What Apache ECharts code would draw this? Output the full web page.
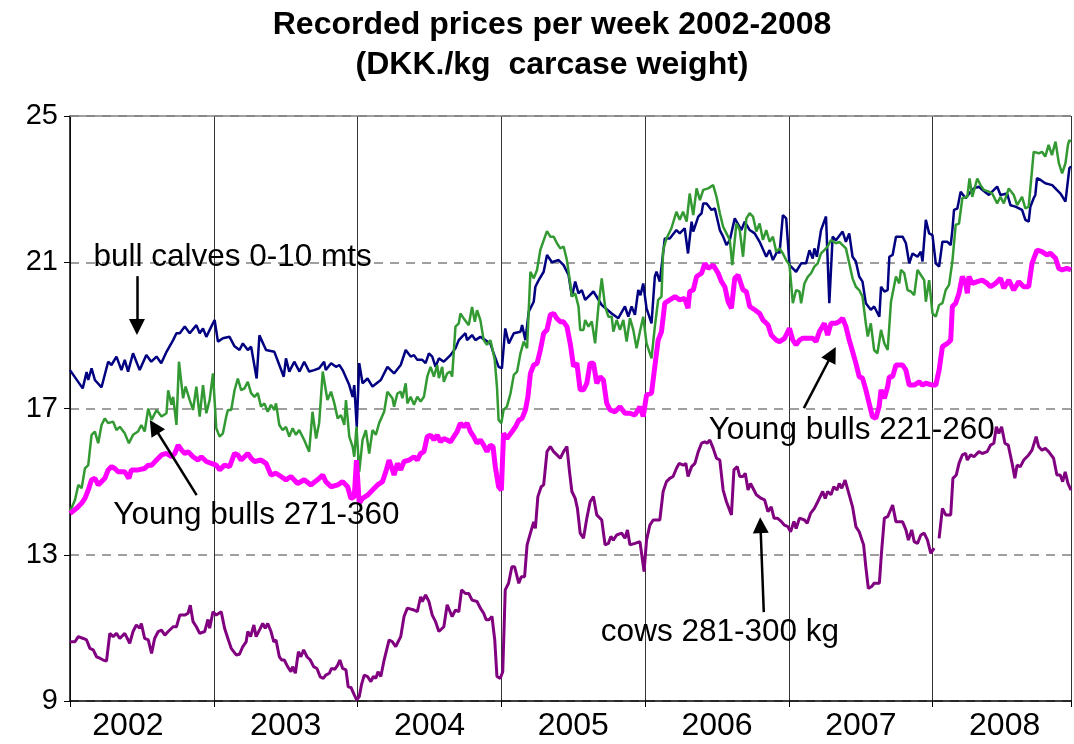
<!DOCTYPE html>
<html>
<head>
<meta charset="utf-8">
<title>Recorded prices per week 2002-2008</title>
<script src="https://cdn.jsdelivr.net/npm/echarts@6/dist/echarts.min.js"></script>
<style>
  html, body { margin: 0; padding: 0; background: #fff; }
  #chart { width: 1074px; height: 744px; }
</style>
</head>
<body>
<div id="chart"></div>
<script>
// x = week number counted from the first week of 2002 (52 weeks per year)
const years = ['2002', '2003', '2004', '2005', '2006', '2007', '2008']
const yTicks = [9, 13, 17, 21, 25]

// bull calves 0-10 mts
const calves = [[0,18.05],[4.6,17.55],[6,18.0],[6.6,17.78],[7.8,18.1],[9,17.78],[11.4,17.58],[13.8,18.28],[15,18.19],[16.8,18.42],[18.6,18.05],[19.8,18.33],[21,18.01],[22.8,18.51],[25.2,18.05],[27.6,18.46],[29.4,18.28],[31.3,18.42],[33,18.24],[34.9,18.55],[37.3,18.87],[38.5,19.06],[39.7,19.06],[41.5,19.24],[43.3,19.06],[45.7,19.28],[46.9,19.06],[48.1,19.19],[49.3,18.96],[51.1,19.24],[52.3,19.42],[53.5,18.83],[55.3,18.92],[57.7,18.96],[59.5,18.7],[61.3,18.6],[62.5,18.78],[64.3,18.6],[65.5,18.69],[67.5,17.82],[68.5,19.0],[70.9,18.6],[73.9,18.55],[75.7,18.19],[77.3,17.87],[78.1,18.37],[79.3,18.01],[81.1,18.28],[83,18.01],[84.7,18.28],[86.5,18.01],[88.3,18.05],[90.1,18.1],[91.9,18.28],[92.5,18.05],[94.4,18.24],[96.2,18.14],[97.4,18.19],[98.6,18.05],[101,17.64],[102.2,17.32],[102.8,17.64],[103.7,16.5],[104.6,18.24],[105.8,17.69],[107.6,17.82],[109.4,17.6],[112.4,17.78],[114.8,18.14],[117.2,17.96],[119.6,18.19],[121.4,18.6],[123.2,18.42],[124.4,18.46],[125.6,18.33],[127.4,18.33],[128.6,18.24],[129.8,18.51],[131,18.42],[132.2,18.14],[133.4,18.37],[135.2,18.28],[137.6,18.46],[139.4,18.65],[140.6,18.87],[143,19.06],[143.6,18.87],[145.4,19.01],[146.6,18.87],[148.4,18.96],[150.2,18.87],[152,18.78],[153.2,18.51],[155,18.14],[156.2,18.1],[157.4,19.19],[158.7,18.78],[160.5,19.06],[162.9,19.1],[163.5,19.28],[164.7,18.87],[165.9,19.65],[167.7,19.92],[168.3,20.33],[169.5,20.51],[171.3,20.74],[172.5,21.2],[174.3,21.0],[176.7,21.06],[178.5,20.92],[180.3,20.65],[181.5,20.06],[182.7,20.47],[183.9,20.15],[185.1,20.24],[186.3,19.97],[189.3,20.2],[192.3,19.83],[195.9,19.6],[198.3,19.47],[200.7,19.79],[201.9,19.51],[203.1,19.79],[204.3,19.56],[205.5,20.24],[206.3,20.1],[207.3,20.42],[208.5,19.74],[210.3,19.33],[211.5,20.61],[212.1,20.74],[213.3,20.47],[215.1,21.65],[216.9,21.65],[219.3,21.88],[220.5,21.79],[222.3,21.93],[223.5,21.24],[224.8,22.11],[225.4,21.84],[227.2,22.25],[228.4,22.34],[229,22.61],[230.2,22.61],[232,22.43],[233.2,22.47],[235,21.88],[236.2,21.7],[237.4,21.47],[238.6,21.6],[240.4,22.2],[242.8,21.88],[244,22.11],[245.8,21.88],[247.6,21.79],[249.4,21.56],[251.8,21.15],[253,21.33],[254.2,21.06],[256,21.33],[256.6,21.24],[257.8,22.29],[259,22.2],[260.2,20.92],[261.4,20.83],[262.6,20.74],[264.4,20.97],[266.2,20.97],[267.4,21.33],[268.6,21.1],[269.2,21.38],[270.1,21.15],[271.6,21.88],[273.4,22.25],[274.6,19.88],[275.8,21.7],[277,21.6],[279.4,21.84],[280.6,21.56],[281.8,21.79],[283,21.15],[284.2,21.02],[285.4,20.61],[286.6,20.47],[287.8,19.88],[289.6,19.7],[290.8,19.79],[292.7,19.51],[293.3,20.33],[294.5,20.2],[295.7,20.24],[296.3,21.15],[297.5,21.2],[298.7,21.7],[301.1,21.7],[302.3,21.52],[303.5,20.97],[304.7,21.24],[306.5,21.15],[307.7,21.29],[308.3,21.02],[309.5,22.16],[310.7,21.79],[311.9,21.74],[313.1,20.97],[314.3,20.88],[315.5,21.56],[317.3,21.56],[318.5,21.47],[319.1,21.88],[319.7,22.43],[320.9,22.47],[322.1,22.93],[323.9,22.75],[325.7,22.93],[326.9,23.02],[328.7,23.07],[329.9,22.98],[332.3,22.84],[335.3,23.07],[336.5,22.84],[338.9,22.88],[340.1,22.56],[341.9,22.52],[344.3,22.43],[345.5,22.16],[346.7,22.11],[347.3,22.52],[348.5,22.75],[349.1,22.84],[349.7,23.3],[351,23.25],[352.7,23.16],[355.2,23.11],[358.2,22.88],[360,22.66],[361.4,23.57],[362,23.62]]

// Young bulls 271-360
const bulls271 = [[0,14.18],[1.8,14.5],[3,14.91],[4.2,14.82],[5.4,15.36],[6.6,15.45],[7.8,16.28],[9,16.37],[10.2,16.05],[11.4,16.55],[12.6,16.73],[13.8,16.6],[15.6,16.64],[16.8,16.41],[18,16.5],[19.8,16.32],[21.3,16.05],[22.8,16.28],[24.6,16.37],[25.8,16.55],[27,16.37],[28.3,17.0],[29.5,16.69],[31.3,16.96],[33.1,16.78],[34.9,16.87],[35.5,17.5],[36.7,17.1],[37.3,17.32],[38.5,16.55],[39.4,18.28],[40.9,17.28],[41.8,17.6],[43.3,17.23],[44.5,16.96],[45.7,17.6],[46.9,16.78],[48.1,17.64],[49.3,16.87],[50.5,17.23],[51.7,17.96],[52.9,16.46],[54.1,16.23],[55.3,16.32],[56.5,16.78],[57.1,16.96],[58.3,16.96],[59.5,17.5],[60.7,17.82],[61.9,17.5],[63.1,17.55],[64.3,17.73],[65.5,17.42],[66.7,17.32],[67.9,17.42],[69.1,17.05],[70.3,17.14],[71.5,16.91],[72.7,17.1],[73.9,16.96],[74.5,17.14],[75.7,16.55],[76.9,16.41],[78.1,16.5],[79.3,16.23],[80.5,16.46],[81.7,16.28],[82.9,16.41],[84.7,16.14],[86.5,15.82],[87.7,16.91],[89,16.18],[90.1,16.6],[91.4,18.01],[93.1,17.23],[94.4,17.46],[95.6,17.14],[96.8,16.73],[98,16.82],[99.2,16.55],[99.8,17.23],[101,16.23],[102.2,15.96],[102.8,15.68],[103.6,16.5],[104.6,15.27],[105.8,16.14],[107,16.41],[108.2,15.77],[109.4,16.41],[110.6,16.28],[111.8,16.6],[113.6,16.91],[114.8,17.46],[115.4,17.41],[116.6,17.28],[117.2,17.05],[118.4,17.41],[119.6,17.46],[120.2,17.28],[121.4,17.69],[122,17.14],[123.2,17.32],[124.4,17.1],[125.6,17.32],[126.8,17.19],[128,17.32],[129.2,17.87],[130.4,18.14],[131.6,17.87],[132.8,18.19],[133.4,17.83],[134.6,18.14],[135.2,17.73],[136.4,17.96],[137.6,18.01],[138.2,17.87],[139.4,19.24],[140.6,19.33],[141.2,19.6],[142.4,19.46],[144.2,19.28],[145.4,19.78],[146.4,19.37],[147.2,19.69],[148.4,19.42],[149.6,18.87],[150.8,18.74],[152,18.87],[152.6,18.69],[153.6,18.33],[154.4,17.6],[155,16.69],[156,16.6],[156.8,16.96],[158,17.05],[159.3,17.41],[160.5,17.92],[161.7,18.01],[162.9,18.51],[164.1,18.83],[165.3,18.65],[165.9,19.69],[166.5,20.74],[167.7,20.56],[168.9,20.79],[170.1,21.34],[171.3,21.6],[172.5,21.85],[173.7,21.7],[174.9,21.7],[176.1,21.52],[177.3,21.38],[178.5,21.43],[179.7,21.06],[180.9,20.42],[181.5,20.06],[182.7,20.15],[183.9,19.79],[184.5,19.15],[185.7,19.15],[186.3,19.42],[187.5,19.24],[188.7,19.38],[189.9,18.78],[191.1,19.79],[192.3,20.56],[193.5,19.79],[194.7,19.51],[195.9,19.51],[196.5,19.1],[197.7,19.42],[198.9,19.15],[200.1,19.42],[201.3,18.83],[202.5,19.47],[203.7,19.15],[204.9,18.65],[206.1,19.1],[207.3,19.51],[208.5,18.78],[209.7,18.51],[210.3,18.37],[211.5,19.24],[212.7,19.97],[213.9,20.06],[214.5,21.33],[215.7,21.65],[217.5,21.93],[219.3,22.38],[220.5,22.16],[221.7,22.38],[223,22.11],[224.1,22.88],[225.4,22.29],[226.6,23.02],[227.8,22.7],[229,22.98],[230.8,23.02],[232.6,23.11],[233.8,22.79],[235,22.34],[236.2,21.97],[237.4,21.79],[238.6,21.61],[239.5,20.92],[241,22.06],[242.2,21.88],[243.4,21.15],[244.6,22.2],[245.8,22.34],[247,22.25],[248.2,21.84],[249.4,22.06],[250.6,21.61],[251.8,21.88],[253,21.56],[254.2,21.7],[255.4,21.29],[256.6,21.38],[257.8,21.24],[259,21.06],[260.2,20.92],[261.4,19.88],[262.6,20.24],[263.8,20.2],[264.4,19.88],[265.6,20.42],[266.8,20.6],[268,20.7],[269.2,20.88],[270.4,20.97],[271.6,21.24],[272.8,21.33],[274,21.43],[275.2,21.61],[277,21.52],[278.2,21.56],[279.4,21.47],[280.6,21.38],[281.8,20.97],[283,20.56],[284.2,20.33],[285.4,20.24],[286.6,20.06],[287.8,19.33],[288.5,18.97],[289.6,19.33],[290.8,18.6],[292,18.51],[293.3,19.15],[294.5,18.78],[295.7,18.6],[296.9,19.92],[298.7,20.61],[299.9,20.42],[300.5,20.79],[301.7,20.7],[302.9,20.24],[304.1,20.2],[305.3,20.1],[306.5,20.79],[307.7,20.65],[308.9,20.51],[309.5,19.92],[310.7,20.51],[311.9,19.6],[313.1,19.51],[314.3,19.83],[315.5,19.88],[316.7,20.24],[317.9,20.38],[319.1,21.02],[320.3,22.02],[321.5,22.06],[322.7,22.75],[324.5,22.79],[325.3,23.29],[326.3,22.79],[328.1,23.29],[329.3,23.11],[330.5,22.98],[332.3,22.93],[333.5,22.88],[335.3,22.61],[336.5,22.79],[337.7,22.61],[339.5,23.02],[341.3,22.84],[342.5,22.56],[344.3,22.79],[345.5,22.47],[346.7,22.52],[347.9,23.52],[348.5,24.02],[350.3,23.98],[351.5,24.02],[352.7,23.89],[353.9,24.21],[355.1,23.93],[356.4,24.3],[357.6,23.71],[358.8,23.43],[360,23.71],[360.9,24.21],[361.4,24.34],[362,24.3]]

// Young bulls 221-260
const bulls221 = [[0,14.13],[2.4,14.27],[4.2,14.41],[5.4,14.54],[6.6,14.77],[7.8,15.05],[9,15.09],[10.2,14.91],[11.4,15.0],[12.6,15.09],[13.8,15.32],[15,15.41],[16.2,15.36],[17.4,15.27],[19.8,15.27],[21.3,15.09],[22.2,15.32],[24.6,15.32],[27,15.36],[28.3,15.45],[29.5,15.45],[31.3,15.59],[33.1,15.73],[34.9,15.77],[36.7,15.68],[37.9,15.77],[39.1,16.0],[40.3,15.87],[41.5,15.77],[42.7,15.82],[44.5,15.68],[46.3,15.59],[47.5,15.68],[49.3,15.55],[51.1,15.5],[52.9,15.45],[54.1,15.32],[55.9,15.45],[57.7,15.41],[59.5,15.77],[60.7,15.73],[61.9,15.59],[63.1,15.68],[64.3,15.77],[65.5,15.64],[66.7,15.55],[69.1,15.59],[70.9,15.5],[72.7,15.18],[74.5,15.23],[76.3,15.14],[78.1,15.05],[79.9,15.14],[82.3,14.95],[84.7,15.05],[87.1,14.91],[89.5,15.05],[91.4,15.18],[92.5,15.0],[94.4,14.86],[96.8,14.91],[98.6,15.0],[100.4,14.86],[101.6,14.54],[102.8,14.59],[103.6,15.59],[104.6,14.41],[105.8,14.54],[107.6,14.63],[109.4,14.77],[111.2,14.91],[113,15.0],[114.4,15.32],[115.4,15.59],[117.2,15.18],[118.4,15.5],[119.6,15.32],[120.8,15.55],[122.6,15.59],[124.4,15.68],[125.6,15.59],[126.8,15.77],[128,15.82],[129.2,16.23],[130.4,16.27],[131.6,16.14],[132.8,16.27],[134,16.09],[135.2,16.18],[136.4,16.14],[137.6,16.09],[138.8,16.23],[140,16.37],[141.2,16.6],[142.4,16.5],[143.6,16.6],[144.8,16.37],[146,16.23],[147.2,16.05],[148.4,16.14],[149.6,16.0],[150.8,15.82],[152,16.0],[153,15.95],[153.8,15.41],[155,14.86],[156,14.77],[156.8,16.32],[158,16.18],[159.9,16.37],[161.1,16.5],[162.3,16.68],[163.5,16.73],[164.7,16.96],[165.6,17.32],[166.5,17.96],[167.7,18.19],[168.9,18.23],[170.1,18.6],[171.3,19.06],[172.5,19.15],[173.7,19.56],[174.9,19.6],[176.1,19.46],[177.3,19.37],[178.5,19.37],[179.7,19.24],[180.9,18.78],[182.1,18.15],[183.3,18.24],[184.5,17.51],[185.7,17.51],[186.9,17.69],[188.1,18.24],[189.3,18.24],[190.5,17.69],[191.7,17.87],[192.9,17.78],[194.1,17.14],[195.3,16.96],[197.1,16.91],[198.9,17.05],[200.7,16.87],[202.5,16.87],[204.3,16.82],[206.1,17.05],[207.3,16.78],[208.5,17.37],[210.3,17.42],[211.5,18.15],[212.7,18.87],[213.9,19.1],[215.1,19.88],[216.9,19.97],[218.8,20.06],[220.5,19.97],[222.3,20.01],[223.5,19.74],[224.1,20.2],[225.4,20.24],[226.6,20.61],[228.4,20.7],[229.6,20.97],[230.8,20.83],[232.6,20.92],[234.4,20.7],[235.6,20.47],[236.8,20.33],[238,19.92],[239.2,19.74],[240.4,20.56],[241.6,20.65],[243.4,20.24],[244.6,20.2],[245.8,19.79],[247.6,19.7],[249.4,19.6],[250.6,19.42],[252.4,19.29],[253.6,19.01],[255.4,18.87],[256.6,18.83],[258.4,18.92],[260.2,19.19],[261.4,18.87],[262.6,18.74],[263.8,18.87],[265,18.92],[266.8,18.92],[268.6,18.92],[269.8,18.83],[271,19.1],[272.8,19.33],[274,19.01],[275.2,19.33],[277,19.33],[278.2,19.38],[279.4,19.47],[280.6,19.24],[281.8,18.87],[283,18.56],[284.2,18.24],[285.4,17.87],[286.6,17.83],[287.8,17.51],[289,17.14],[290.2,16.78],[291.4,16.73],[292.6,17.05],[293.3,17.51],[294.5,17.28],[295.7,17.6],[296.3,17.87],[297.5,17.87],[298.7,18.19],[299.3,18.23],[301.1,18.19],[302.3,18.05],[303.5,17.64],[305.3,17.64],[307.1,17.73],[308.3,17.64],[309.5,17.69],[311.9,17.64],[313.1,17.64],[314.3,18.05],[315.5,18.69],[317.3,18.78],[318.5,18.87],[319.1,19.79],[320.3,19.88],[321.5,20.15],[322.7,20.61],[323.9,20.42],[324.5,20.15],[325.1,20.61],[326.3,20.42],[328.1,20.47],[329.9,20.51],[331.7,20.42],[332.9,20.33],[334.7,20.42],[336.5,20.56],[337.7,20.29],[339.5,20.51],[341.3,20.24],[343.1,20.47],[344.9,20.33],[346.7,20.33],[347.9,20.97],[349.7,21.33],[351.5,21.29],[353.3,21.2],[354.5,21.25],[356.4,21.11],[357.6,20.83],[358.8,20.79],[360.5,20.83],[362,20.79]]

// cows 281-300 kg (one missing stretch early 2008)
const cows = [[0,10.62],[1.8,10.62],[3,10.76],[4.8,10.71],[6,10.67],[7.2,10.44],[8.4,10.4],[9.6,10.21],[10.8,10.17],[12,10.12],[13.2,10.09],[14.4,10.85],[15.6,10.76],[16.8,10.85],[18,10.71],[19.8,10.85],[21.6,10.58],[22.8,10.9],[24,11.08],[25.2,10.99],[25.8,11.12],[27,10.71],[28.3,10.67],[29.5,10.3],[30.6,10.71],[31.9,10.9],[33.1,10.94],[34.3,10.8],[35.5,10.9],[37.3,11.03],[38.5,11.03],[39.7,11.35],[41.5,11.35],[42.7,11.4],[43.5,11.62],[44.5,11.17],[45.7,11.03],[46.9,10.85],[48.7,10.9],[49.9,11.23],[50.5,10.99],[51.7,11.44],[52.9,11.35],[54.7,11.44],[55.9,10.99],[57.1,10.71],[58.3,10.44],[60.1,10.26],[61.3,10.28],[62.5,10.49],[63.7,10.62],[64.3,10.9],[65.3,10.76],[66.5,11.08],[67.3,10.76],[68.5,10.94],[69.7,11.12],[70.6,10.99],[71.5,11.12],[72.7,10.9],[73.7,10.62],[74.5,10.67],[75.7,10.21],[76.6,10.12],[77.5,10.12],[78.7,9.94],[79.9,9.8],[80.5,9.94],[81.5,9.76],[82.6,10.35],[83.5,10.21],[84.5,10.4],[85.7,10.21],[86.9,10.12],[88.1,9.94],[89.3,9.89],[90.5,9.66],[91.6,9.62],[92.5,9.71],[93.8,9.76],[94.6,9.89],[95.8,9.87],[96.8,9.98],[97.6,10.12],[98.6,9.89],[99.8,9.85],[100.6,9.39],[101.6,9.37],[102.8,9.17],[103.7,9.03],[104.6,9.12],[105.4,9.44],[106.4,9.71],[107.6,9.67],[108.8,9.53],[109.7,9.67],[110.6,9.62],[111.4,9.8],[112.4,9.67],[113.6,10.12],[115.4,10.67],[116.6,10.62],[117.8,10.49],[119.6,10.76],[120.8,11.31],[122,11.54],[124.4,11.49],[125.6,11.44],[126.8,11.85],[127.4,11.72],[128.6,11.9],[129.8,11.72],[131,11.35],[132.2,11.17],[133.4,10.9],[135.2,11.03],[136.4,11.63],[138.2,11.31],[139.4,11.49],[140.6,11.44],[141.6,12.04],[143,11.94],[144.2,11.94],[145.4,11.76],[147.2,11.72],[148.4,11.54],[149.6,11.4],[150.5,11.22],[151.5,11.22],[152.6,11.31],[153.6,10.67],[154.4,9.67],[155.6,9.62],[156.5,9.8],[157.4,12.04],[158.6,12.22],[159.8,12.67],[160.8,12.67],[162.3,12.22],[163.2,12.4],[164.4,12.4],[165.3,13.27],[166.5,13.59],[167.7,13.9],[168.3,13.72],[169.2,14.59],[170.4,14.86],[171.3,14.91],[172.5,15.82],[173.7,15.96],[174.9,15.82],[176.1,15.73],[177.3,15.64],[178.5,15.82],[179.7,15.96],[180.6,15.3],[181.5,14.73],[182.7,14.54],[183.5,14.27],[184.5,13.59],[185.7,13.45],[186.9,14.0],[188.1,14.45],[189.3,14.59],[190.5,14.09],[192.3,13.95],[193.5,13.27],[194.7,13.31],[195.6,13.5],[196.5,13.4],[197.7,13.54],[199.5,13.59],[200.7,13.45],[201.6,13.68],[202.5,13.27],[204.3,13.31],[206.1,13.36],[206.7,13.04],[207.6,12.54],[208.5,13.4],[209.7,13.81],[210.9,13.95],[213.3,13.95],[214.5,14.73],[215.7,15.0],[216.9,15.09],[218.1,15.14],[219.3,15.36],[220.3,15.5],[221.8,15.45],[222.7,15.5],[223.5,15.14],[224.8,15.41],[226,15.5],[227.2,15.82],[228.4,16.05],[229.6,16.09],[230.4,16.05],[231.4,16.14],[232.6,15.91],[233.8,15.64],[235,15.59],[236.2,14.77],[237.4,14.45],[239.2,14.09],[240.1,15.32],[241.3,15.41],[242.2,15.14],[243.4,15.14],[244.2,15.23],[245.2,14.77],[246.1,14.95],[247,14.82],[248.2,14.64],[250,14.54],[251.2,14.5],[252.4,14.18],[253.6,14.31],[254.6,14.0],[255.8,14.0],[257.2,13.91],[258.4,13.81],[259.6,13.77],[260.6,13.63],[261.8,13.91],[262.6,13.72],[263.8,14.0],[265.6,13.95],[266.6,13.86],[267.8,14.13],[269.2,14.27],[270.4,14.45],[272.2,14.73],[273.1,14.54],[274,14.73],[275.2,14.64],[276.2,14.86],[277.4,14.77],[278.2,14.95],[279.1,14.82],[280.3,15.04],[281.8,14.64],[283,14.31],[284.2,13.77],[285.4,13.63],[287,13.27],[287.8,12.67],[288.7,12.08],[289.9,12.13],[290.8,12.22],[292.7,12.22],[293.5,13.09],[294.5,14.0],[295.7,14.04],[296.3,14.09],[297.5,14.36],[298.7,13.9],[299.9,13.9],[301.1,13.9],[302.3,13.68],[303.2,13.4],[304.4,13.68],[305.3,13.36],[306.5,13.31],[307.7,13.54],[308.9,13.59],[310.1,13.4],[311.3,13.04],[312.5,13.18],[313.4,null],[314.3,13.45],[315.5,14.27],[316.7,14.09],[318.5,14.09],[319.3,15.09],[320.5,15.18],[321.5,15.5],[322.7,15.73],[323.9,15.77],[324.5,15.59],[325.7,15.73],[326.9,15.68],[328.7,15.82],[329.9,15.77],[331.7,15.82],[332.9,16.0],[334.1,16.05],[335,16.5],[335.9,16.32],[336.9,16.5],[338.1,16.05],[339.3,16.0],[340.7,15.5],[341.7,15.09],[342.5,15.45],[343.7,15.41],[344.9,15.59],[346.7,15.73],[347.9,15.86],[349.4,16.23],[350.3,15.96],[351.5,15.86],[352.7,15.91],[353.9,15.82],[355.7,15.64],[356.9,15.18],[358.1,15.18],[359,15.0],[359.9,15.27],[360.9,14.95],[362,14.77]]

// labels and arrows, placed in data units (week, DKK)
const noteLabels = [
  { name: 'bull calves 0-10 mts', coord: [8.3, 21.14] },
  { name: 'Young bulls 271-360', coord: [15.5, 14.09] },
  { name: 'Young bulls 221-260', coord: [230.8, 16.41] },
  { name: 'cows 281-300 kg', coord: [191.8, 10.89] }
]
const noteArrows = [
  [[24.2, 20.62], [24.2, 19.23]],
  [[45.8, 14.63], [30.4, 16.5]],
  [[265.4, 17.01], [275.6, 18.49]],
  [[250.9, 11.43], [249.7, 13.81]]
]

const FONT = "'Liberation Sans', Arial, sans-serif"
const WEEKS = 362

const chart = echarts.init(document.getElementById('chart'))

function line(name, data, color, width) {
  return {
    name: name,
    type: 'line',
    data: data,
    symbol: 'none',
    showSymbol: false,
    connectNulls: false,
    animation: false,
    lineStyle: { color: color, width: width },
    itemStyle: { color: color }
  }
}

// arrows plus the solid top border at 25
const markLines = noteArrows.map(a => [{ coord: a[0] }, { coord: a[1] }])
markLines.push([
  { coord: [0, 25], symbol: 'none', lineStyle: { color: '#808080', width: 1.5 } },
  { coord: [WEEKS, 25], symbol: 'none' }
])

chart.setOption({
  backgroundColor: '#fff',
  animation: false,
  title: {
    text: 'Recorded prices per week 2002-2008\n(DKK./kg  carcase weight)',
    left: 547,
    textAlign: 'center',
    top: 0,
    textStyle: {
      fontFamily: FONT,
      fontWeight: 'bold',
      fontSize: 32,
      lineHeight: 40,
      color: '#000'
    }
  },
  grid: {
    left: 70,
    right: 0,
    top: 116,
    bottom: 43
  },
  xAxis: [{
    type: 'value',
    position: 'bottom',
    min: 0,
    max: WEEKS,
    interval: 52,
    axisLine: { show: true, lineStyle: { color: '#000', width: 1.5 } },
    axisTick: { show: true, length: 6, lineStyle: { color: '#000' } },
    axisLabel: { show: false },
    splitLine: { show: true, lineStyle: { color: '#333', width: 1 } }
  }, {
    type: 'value',
    position: 'bottom',
    min: 0,
    max: WEEKS,
    interval: 26,
    axisLine: { show: false },
    axisTick: { show: false },
    splitLine: { show: false },
    axisLabel: {
      margin: 9,
      fontFamily: FONT,
      fontSize: 32,
      color: '#000',
      formatter: function (v) {
        if (v % 52 !== 26) return ''
        const y = years[(v - 26) / 52]
        // the first year label sits a little left of its band
        return v === 26 ? '{first|' + y + '}' : y
      },
      rich: {
        first: { fontFamily: FONT, fontSize: 32, color: '#000', padding: [0, 28, 0, 0] }
      }
    }
  }],
  yAxis: {
    type: 'value',
    min: yTicks[0],
    max: yTicks[yTicks.length - 1],
    interval: 4,
    axisLine: { show: true, lineStyle: { color: '#000', width: 1.5 } },
    axisTick: { show: true, length: 6, lineStyle: { color: '#000' } },
    axisLabel: {
      margin: 12,
      fontFamily: FONT,
      fontSize: 29,
      color: '#000'
    },
    splitLine: {
      show: true,
      lineStyle: { color: '#808080', type: [9, 7], width: 1.5 }
    }
  },
  series: [
    line('cows 281-300 kg', cows, '#800080', 3),
    line('bull calves 0-10 mts', calves, '#000080', 2.5),
    line('Young bulls 271-360', bulls271, '#339933', 2.5),
    line('Young bulls 221-260', bulls221, '#ff00ff', 5),
    {
      name: 'notes',
      type: 'line',
      data: [],
      silent: true,
      markLine: {
        silent: true,
        symbol: ['none', 'triangle'],
        symbolSize: 16,
        label: { show: false },
        lineStyle: { color: '#000', width: 2.5, type: 'solid' },
        data: markLines
      },
      markPoint: {
        silent: true,
        symbol: 'rect',
        symbolSize: 1,
        itemStyle: { color: 'rgba(0,0,0,0)' },
        label: {
          show: true,
          position: 'right',
          distance: 0,
          formatter: p => p.name,
          fontFamily: FONT,
          fontSize: 31.5,
          color: '#000'
        },
        data: noteLabels
      }
    }
  ]
})
</script>
</body>
</html>
